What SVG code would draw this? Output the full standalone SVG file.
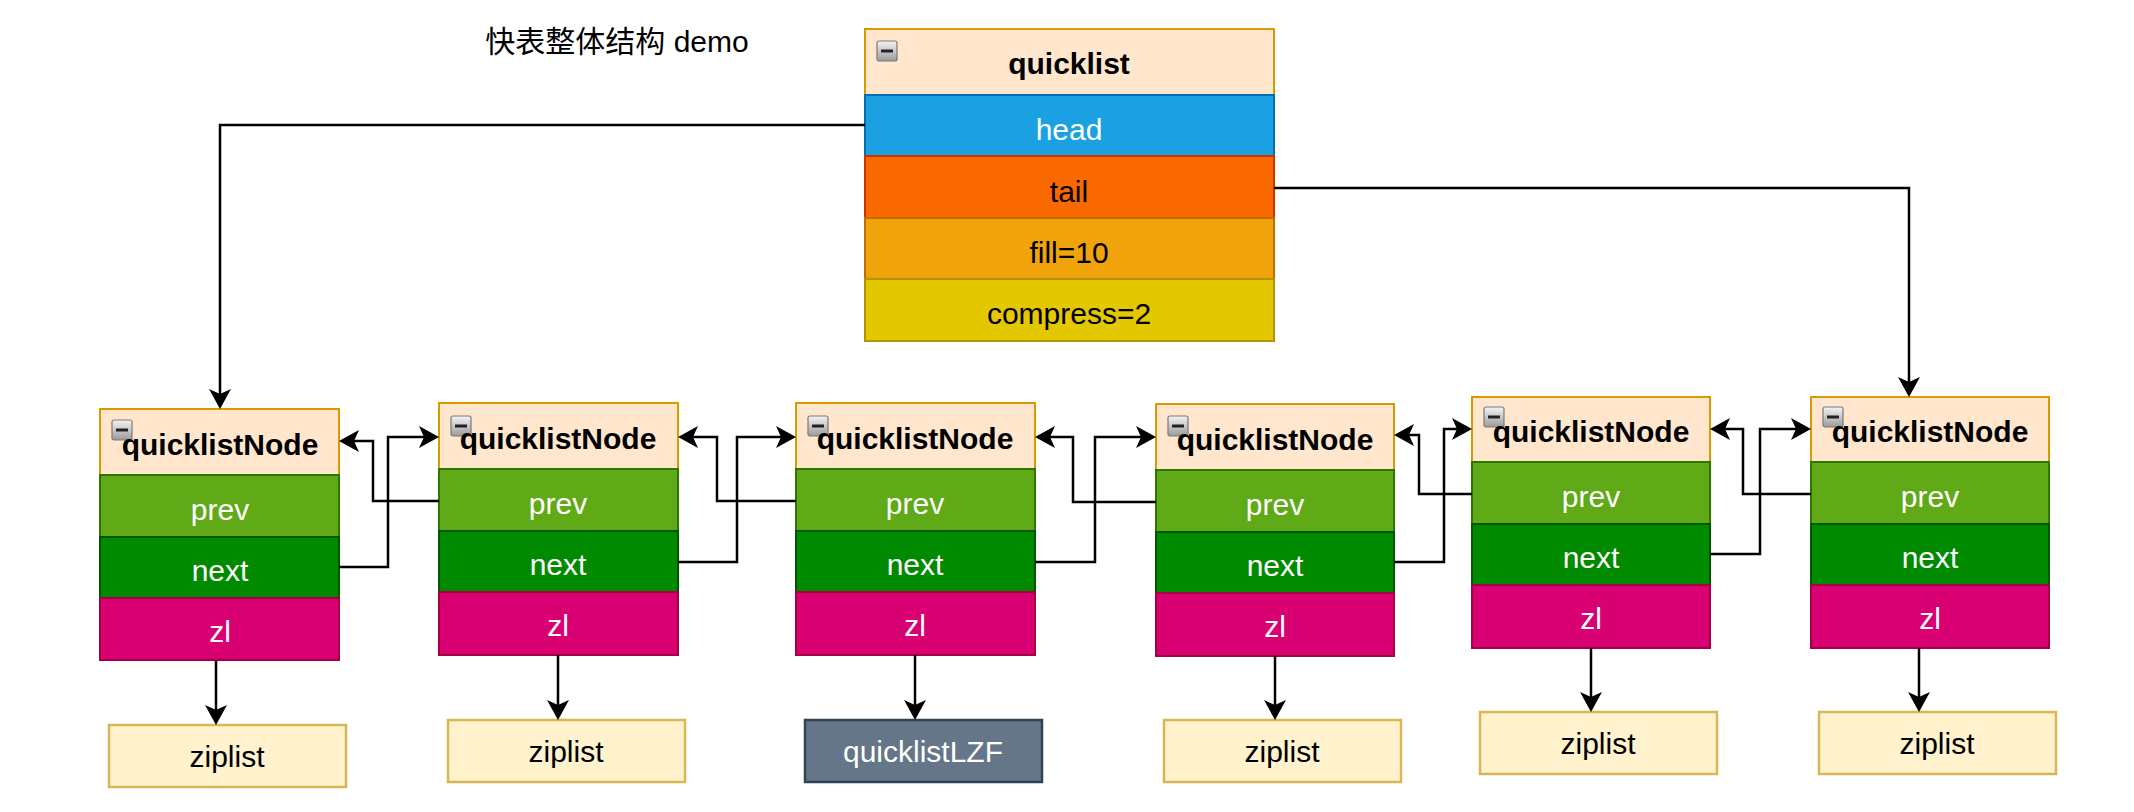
<svg xmlns="http://www.w3.org/2000/svg" width="2134" height="812" viewBox="0 0 2134 812">
<defs>
<marker id="arr" viewBox="0 0 20 22" refX="15" refY="11" markerWidth="20" markerHeight="22" markerUnits="userSpaceOnUse" orient="auto">
<path d="M0,0 L20,11 L0,22 L5,11 Z" fill="#000"/>
</marker>
<linearGradient id="ig" x1="0" y1="0" x2="0" y2="1">
<stop offset="0" stop-color="#f4f4f4"/>
<stop offset="1" stop-color="#9a9a9a"/>
</linearGradient>
<g id="icon">
<rect x="0" y="0" width="20" height="20" rx="2" fill="url(#ig)" stroke="#7a7a7a" stroke-width="1.2"/>
<rect x="4" y="8.5" width="12" height="3" fill="#222"/>
</g>
</defs>
<style>
text{font-family:"Liberation Sans",Arial,"Noto Sans CJK SC",sans-serif;font-size:30px;text-anchor:middle}
.b{font-weight:bold}
.w{fill:#fff}
.k{fill:#000}
.hd{fill:#ffe6cc;stroke:#d79b00;stroke-width:2}
.head{fill:#1ba1e2;stroke:#006eaf;stroke-width:2}
.tail{fill:#fa6800;stroke:#c73500;stroke-width:2}
.fill{fill:#f0a30a;stroke:#bd7000;stroke-width:2}
.comp{fill:#e3c800;stroke:#b09500;stroke-width:2}
.prev{fill:#60a917;stroke:#2d7600;stroke-width:2}
.next{fill:#008a00;stroke:#005700;stroke-width:2}
.zl{fill:#d80073;stroke:#a50040;stroke-width:2}
.zip{fill:#fff2cc;stroke:#d6b656;stroke-width:2.5}
.lzf{fill:#647687;stroke:#314354;stroke-width:2.5}
.c{fill:none;stroke:#000;stroke-width:2.5;marker-end:url(#arr)}
</style>
<rect width="2134" height="812" fill="#fff"/>
<text x="617" y="52">快表整体结构 demo</text>

<g id="quicklist">
<rect class="hd" x="865" y="29" width="409" height="66"/>
<rect class="head" x="865" y="95" width="409" height="61"/>
<rect class="tail" x="865" y="156" width="409" height="62"/>
<rect class="fill" x="865" y="218" width="409" height="61"/>
<rect class="comp" x="865" y="279" width="409" height="62"/>
<use href="#icon" x="877" y="41"/>
<text class="b k" x="1069" y="74">quicklist</text>
<text class="w" x="1069" y="140">head</text>
<text class="k" x="1069" y="202">tail</text>
<text class="k" x="1069" y="263">fill=10</text>
<text class="k" x="1069" y="324">compress=2</text>
</g>

<g id="node1">
<rect class="hd" x="100" y="409" width="239" height="66"/>
<rect class="prev" x="100" y="475" width="239" height="62"/>
<rect class="next" x="100" y="537" width="239" height="61"/>
<rect class="zl" x="100" y="598" width="239" height="62"/>
<use href="#icon" x="112" y="420"/>
<text class="b k" x="220" y="455">quicklistNode</text>
<text class="w" x="220" y="520">prev</text>
<text class="w" x="220" y="581">next</text>
<text class="w" x="220" y="642">zl</text>
</g>
<g id="node2">
<rect class="hd" x="439" y="403" width="239" height="66"/>
<rect class="prev" x="439" y="469" width="239" height="62"/>
<rect class="next" x="439" y="531" width="239" height="61"/>
<rect class="zl" x="439" y="592" width="239" height="63"/>
<use href="#icon" x="451" y="416"/>
<text class="b k" x="558" y="449">quicklistNode</text>
<text class="w" x="558" y="514">prev</text>
<text class="w" x="558" y="575">next</text>
<text class="w" x="558" y="636">zl</text>
</g>
<g id="node3">
<rect class="hd" x="796" y="403" width="239" height="66"/>
<rect class="prev" x="796" y="469" width="239" height="62"/>
<rect class="next" x="796" y="531" width="239" height="61"/>
<rect class="zl" x="796" y="592" width="239" height="63"/>
<use href="#icon" x="808" y="416"/>
<text class="b k" x="915" y="449">quicklistNode</text>
<text class="w" x="915" y="514">prev</text>
<text class="w" x="915" y="575">next</text>
<text class="w" x="915" y="636">zl</text>
</g>
<g id="node4">
<rect class="hd" x="1156" y="404" width="238" height="66"/>
<rect class="prev" x="1156" y="470" width="238" height="62"/>
<rect class="next" x="1156" y="532" width="238" height="61"/>
<rect class="zl" x="1156" y="593" width="238" height="63"/>
<use href="#icon" x="1168" y="416"/>
<text class="b k" x="1275" y="450">quicklistNode</text>
<text class="w" x="1275" y="515">prev</text>
<text class="w" x="1275" y="576">next</text>
<text class="w" x="1275" y="637">zl</text>
</g>
<g id="node5">
<rect class="hd" x="1472" y="397" width="238" height="65"/>
<rect class="prev" x="1472" y="462" width="238" height="62"/>
<rect class="next" x="1472" y="524" width="238" height="61"/>
<rect class="zl" x="1472" y="585" width="238" height="63"/>
<use href="#icon" x="1484" y="407"/>
<text class="b k" x="1591" y="442">quicklistNode</text>
<text class="w" x="1591" y="507">prev</text>
<text class="w" x="1591" y="568">next</text>
<text class="w" x="1591" y="629">zl</text>
</g>
<g id="node6">
<rect class="hd" x="1811" y="397" width="238" height="65"/>
<rect class="prev" x="1811" y="462" width="238" height="62"/>
<rect class="next" x="1811" y="524" width="238" height="61"/>
<rect class="zl" x="1811" y="585" width="238" height="63"/>
<use href="#icon" x="1823" y="407"/>
<text class="b k" x="1930" y="442">quicklistNode</text>
<text class="w" x="1930" y="507">prev</text>
<text class="w" x="1930" y="568">next</text>
<text class="w" x="1930" y="629">zl</text>
</g>

<g id="ziplist1"><rect class="zip" x="109" y="725" width="237" height="62"/><text class="k" x="227" y="767">ziplist</text></g>
<g id="ziplist2"><rect class="zip" x="448" y="720" width="237" height="62"/><text class="k" x="566" y="762">ziplist</text></g>
<g id="quicklistLZF"><rect class="lzf" x="805" y="720" width="237" height="62"/><text class="w" x="923" y="762">quicklistLZF</text></g>
<g id="ziplist4"><rect class="zip" x="1164" y="720" width="237" height="62"/><text class="k" x="1282" y="762">ziplist</text></g>
<g id="ziplist5"><rect class="zip" x="1480" y="712" width="237" height="62"/><text class="k" x="1598" y="754">ziplist</text></g>
<g id="ziplist6"><rect class="zip" x="1819" y="712" width="237" height="62"/><text class="k" x="1937" y="754">ziplist</text></g>

<g id="connectors">
<path class="c" d="M865,125 H220 V404"/>
<path class="c" d="M1274,188 H1909 V392"/>
<path class="c" d="M216,660 V720"/>
<path class="c" d="M558,655 V715"/>
<path class="c" d="M915,655 V715"/>
<path class="c" d="M1275,656 V715"/>
<path class="c" d="M1591,648 V707"/>
<path class="c" d="M1919,648 V707"/>
<path class="c" d="M439,501 H373 V441 H344"/>
<path class="c" d="M339,567 H388 V437 H434"/>
<path class="c" d="M796,501 H717 V437 H683"/>
<path class="c" d="M678,562 H737 V437 H791"/>
<path class="c" d="M1156,502 H1073 V437 H1040"/>
<path class="c" d="M1035,562 H1095 V437 H1151"/>
<path class="c" d="M1472,494 H1419 V435 H1399"/>
<path class="c" d="M1394,562 H1444 V429 H1467"/>
<path class="c" d="M1811,494 H1743 V429 H1715"/>
<path class="c" d="M1710,554 H1760 V429 H1806"/>
</g>
</svg>
